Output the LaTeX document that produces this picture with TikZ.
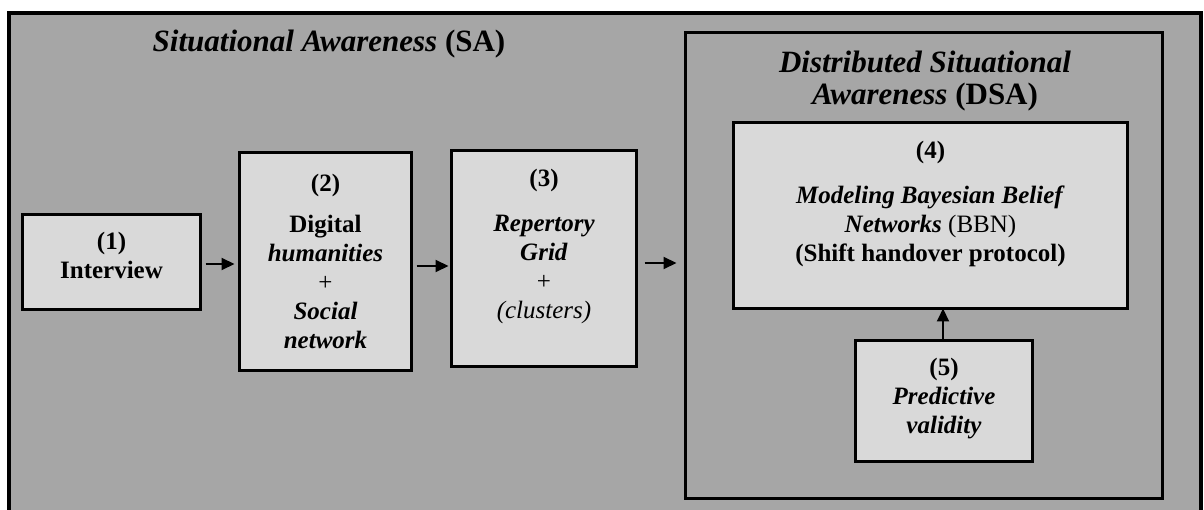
\documentclass[tikz,border=0pt]{standalone}
\usepackage{fontspec}
\setmainfont{Liberation Serif}
\usetikzlibrary{arrows.meta}
\definecolor{panel}{HTML}{A6A6A6}
\definecolor{card}{HTML}{D9D9D9}
\newcommand{\bi}[1]{\textbf{\textit{#1}}}
\begin{document}
\begin{tikzpicture}[x=1pt,y=-1pt,
  panelbox/.style={draw=black, fill=panel, rectangle, inner sep=0pt, outer sep=0pt},
  stepbox/.style={draw=black, line width=3pt, fill=card, rectangle, inner sep=0pt, outer sep=0pt},
  boxtext/.style={align=center, inner sep=0pt, font=\fontsize{25}{29}\selectfont},
  headtext/.style={align=center, inner sep=0pt, font=\fontsize{31}{32}\selectfont},
  arr/.style={line width=2pt, -{Triangle[length=13pt,width=12pt]}}
]
\useasboundingbox (0,0) rectangle (1204,510);
\clip (0,0) rectangle (1204,510);
\fill[white] (0,0) rectangle (1204,510);

% outer panel (SA) and inner panel (DSA)
\node[panelbox, line width=4pt, minimum width=1192pt, minimum height=517pt] (sa) at (605,271.5) {};
\node[panelbox, line width=3pt, minimum width=477pt, minimum height=466pt] (dsa) at (924,265.5) {};

% process boxes
\node[stepbox, minimum width=178pt, minimum height=95pt] (b1) at (111.5,262) {};
\node[stepbox, minimum width=172pt, minimum height=218pt] (b2) at (325.5,261.5) {};
\node[stepbox, minimum width=185pt, minimum height=216pt] (b3) at (544,258.5) {};
\node[stepbox, minimum width=394pt, minimum height=186pt] (b4) at (930.5,215.5) {};
\node[stepbox, minimum width=177pt, minimum height=121pt] (b5) at (944,401) {};

% headings
\node[headtext] (tsa) at (329,44) {\bi{Situational Awareness} \textbf{(SA)}};
\node[headtext] (tdsa) at (925,81) {\bi{Distributed Situational}\\ \bi{Awareness} \textbf{(DSA)}};

% box labels
\node[boxtext] (t1) at (111.5,255) {\textbf{(1)}\\ \textbf{Interview}};
\node[boxtext] (t2) at (325.5,261) {\textbf{(2)}\\[12pt] \textbf{Digital}\\ \bi{humanities}\\ +\\ \bi{Social}\\ \bi{network}};
\node[boxtext] (t3) at (544,246) {\textbf{(3)}\\[16pt] \bi{Repertory}\\ \bi{Grid}\\ +\\ \textit{(clusters)}};
\node[boxtext] (t4) at (930.5,203.5) {\textbf{(4)}\\[16pt] \bi{Modeling Bayesian Belief}\\ \bi{Networks} (BBN)\\ \textbf{(Shift handover protocol)}};
\node[boxtext] (t5) at (944,399) {\textbf{(5)}\\ \bi{Predictive}\\ \bi{validity}};

% connectors
\draw[arr, shorten <=5pt, shorten >=5pt] ([yshift=-2pt]b1.east) -- ([yshift=-2pt]b1.east -| b2.west);
\draw[arr, shorten <=5pt, shorten >=3pt] ([yshift=-4.5pt]b2.east) -- ([yshift=-4.5pt]b2.east -| b3.west);
\draw[arr, shorten <=8pt, shorten >=9pt] ([yshift=-4.5pt]b3.east) -- ([yshift=-4.5pt]b3.east -| dsa.west);
\draw[arr] (b5.north -| 943,0) -- (b4.south -| 943,0);
\end{tikzpicture}
\end{document}
